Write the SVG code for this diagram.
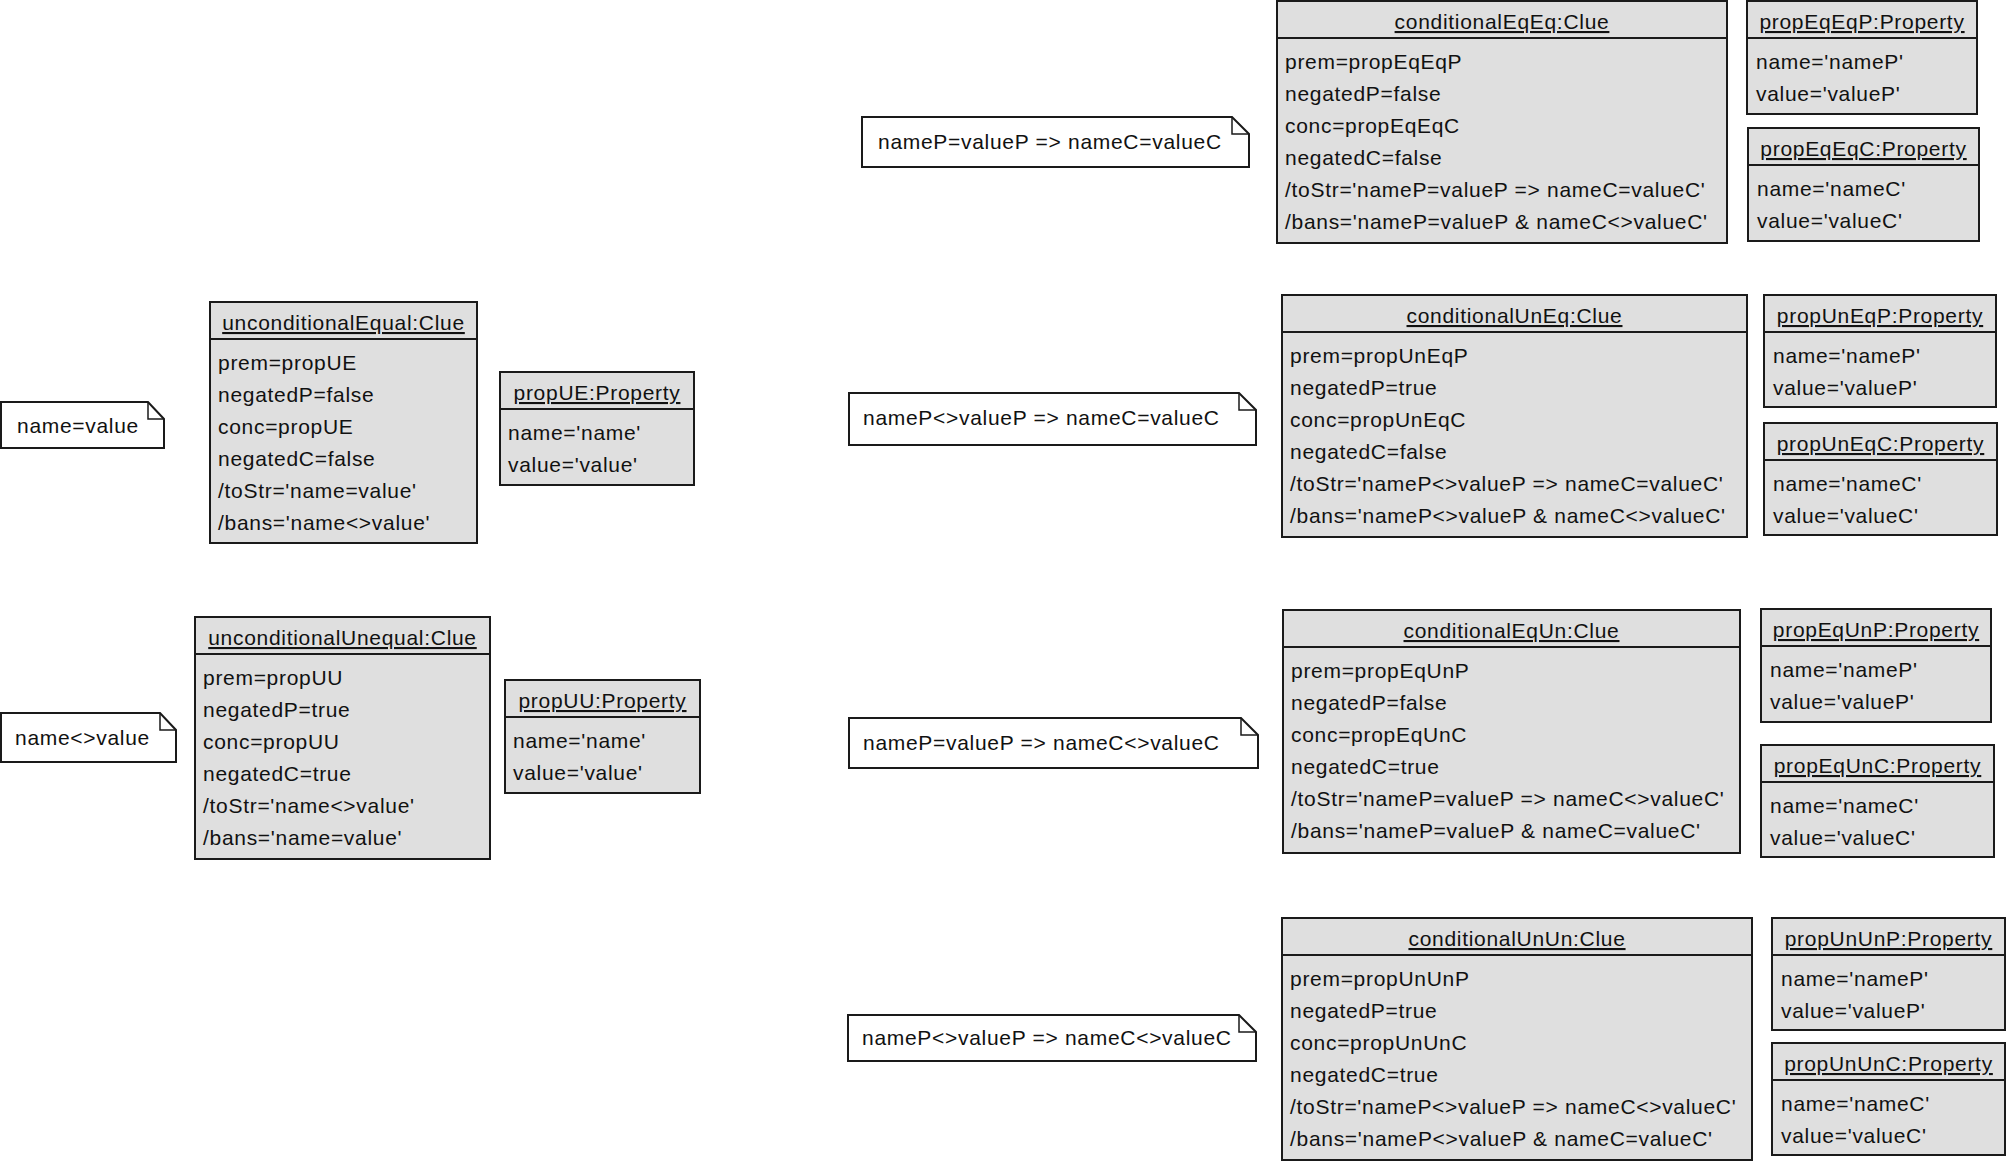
<svg xmlns="http://www.w3.org/2000/svg" width="2008" height="1165" viewBox="0 0 2008 1165">
<style>
  .box { fill: #dfdfdf; stroke: #1a1a1a; stroke-width: 2; }
  .sep { stroke: #1a1a1a; stroke-width: 2; }
  .note { fill: #ffffff; stroke: #1a1a1a; stroke-width: 2; stroke-linejoin: miter; }
  .fold { fill: none; stroke: #1a1a1a; stroke-width: 1.5; }
  text { font-family: "Liberation Sans", Arial, sans-serif; font-size: 21px; letter-spacing: 0.7px; fill: #111111; }
  .title { text-anchor: middle; text-decoration: underline; }
</style>
<rect width="2008" height="1165" fill="#ffffff"/>

<g id="connectors"></g>

<!-- Notes -->
<g id="note1" transform="translate(1,402)">
  <path class="note" d="M0,0 H147 L163,17 V46 H0 Z"/>
  <path class="fold" d="M147,0 V17 H163"/>
  <text x="16" y="31">name=value</text>
</g>
<g id="note2" transform="translate(1,713)">
  <path class="note" d="M0,0 H159 L175,17 V49 H0 Z"/>
  <path class="fold" d="M159,0 V17 H175"/>
  <text x="14" y="32">name&lt;&gt;value</text>
</g>
<g id="note3" transform="translate(862,117)">
  <path class="note" d="M0,0 H370 L387,17 V50 H0 Z"/>
  <path class="fold" d="M370,0 V17 H387"/>
  <text x="16" y="32">nameP=valueP =&gt; nameC=valueC</text>
</g>
<g id="note4" transform="translate(849,393)">
  <path class="note" d="M0,0 H390 L407,17 V52 H0 Z"/>
  <path class="fold" d="M390,0 V17 H407"/>
  <text x="14" y="32">nameP&lt;&gt;valueP =&gt; nameC=valueC</text>
</g>
<g id="note5" transform="translate(849,718)">
  <path class="note" d="M0,0 H392 L409,17 V50 H0 Z"/>
  <path class="fold" d="M392,0 V17 H409"/>
  <text x="14" y="32">nameP=valueP =&gt; nameC&lt;&gt;valueC</text>
</g>
<g id="note6" transform="translate(848,1015)">
  <path class="note" d="M0,0 H391 L408,17 V46 H0 Z"/>
  <path class="fold" d="M391,0 V17 H408"/>
  <text x="14" y="30">nameP&lt;&gt;valueP =&gt; nameC&lt;&gt;valueC</text>
</g>

<!-- Clue objects -->
<g id="unconditionalEqual" transform="translate(210,302)">
  <rect class="box" width="267" height="241"/>
  <line class="sep" x1="0" y1="37" x2="267" y2="37"/>
  <text class="title" x="133.5" y="28">unconditionalEqual:Clue</text>
  <text x="8" y="68">prem=propUE</text>
  <text x="8" y="100">negatedP=false</text>
  <text x="8" y="132">conc=propUE</text>
  <text x="8" y="164">negatedC=false</text>
  <text x="8" y="196">/toStr='name=value'</text>
  <text x="8" y="228">/bans='name&lt;&gt;value'</text>
</g>
<g id="unconditionalUnequal" transform="translate(195,617)">
  <rect class="box" width="295" height="242"/>
  <line class="sep" x1="0" y1="37" x2="295" y2="37"/>
  <text class="title" x="147.5" y="28">unconditionalUnequal:Clue</text>
  <text x="8" y="68">prem=propUU</text>
  <text x="8" y="100">negatedP=true</text>
  <text x="8" y="132">conc=propUU</text>
  <text x="8" y="164">negatedC=true</text>
  <text x="8" y="196">/toStr='name&lt;&gt;value'</text>
  <text x="8" y="228">/bans='name=value'</text>
</g>
<g id="conditionalEqEq" transform="translate(1277,1)">
  <rect class="box" width="450" height="242"/>
  <line class="sep" x1="0" y1="37" x2="450" y2="37"/>
  <text class="title" x="225" y="28">conditionalEqEq:Clue</text>
  <text x="8" y="68">prem=propEqEqP</text>
  <text x="8" y="100">negatedP=false</text>
  <text x="8" y="132">conc=propEqEqC</text>
  <text x="8" y="164">negatedC=false</text>
  <text x="8" y="196">/toStr='nameP=valueP =&gt; nameC=valueC'</text>
  <text x="8" y="228">/bans='nameP=valueP &amp; nameC&lt;&gt;valueC'</text>
</g>
<g id="conditionalUnEq" transform="translate(1282,295)">
  <rect class="box" width="465" height="242"/>
  <line class="sep" x1="0" y1="37" x2="465" y2="37"/>
  <text class="title" x="232.5" y="28">conditionalUnEq:Clue</text>
  <text x="8" y="68">prem=propUnEqP</text>
  <text x="8" y="100">negatedP=true</text>
  <text x="8" y="132">conc=propUnEqC</text>
  <text x="8" y="164">negatedC=false</text>
  <text x="8" y="196">/toStr='nameP&lt;&gt;valueP =&gt; nameC=valueC'</text>
  <text x="8" y="228">/bans='nameP&lt;&gt;valueP &amp; nameC&lt;&gt;valueC'</text>
</g>
<g id="conditionalEqUn" transform="translate(1283,610)">
  <rect class="box" width="457" height="243"/>
  <line class="sep" x1="0" y1="37" x2="457" y2="37"/>
  <text class="title" x="228.5" y="28">conditionalEqUn:Clue</text>
  <text x="8" y="68">prem=propEqUnP</text>
  <text x="8" y="100">negatedP=false</text>
  <text x="8" y="132">conc=propEqUnC</text>
  <text x="8" y="164">negatedC=true</text>
  <text x="8" y="196">/toStr='nameP=valueP =&gt; nameC&lt;&gt;valueC'</text>
  <text x="8" y="228">/bans='nameP=valueP &amp; nameC=valueC'</text>
</g>
<g id="conditionalUnUn" transform="translate(1282,918)">
  <rect class="box" width="470" height="242"/>
  <line class="sep" x1="0" y1="37" x2="470" y2="37"/>
  <text class="title" x="235" y="28">conditionalUnUn:Clue</text>
  <text x="8" y="68">prem=propUnUnP</text>
  <text x="8" y="100">negatedP=true</text>
  <text x="8" y="132">conc=propUnUnC</text>
  <text x="8" y="164">negatedC=true</text>
  <text x="8" y="196">/toStr='nameP&lt;&gt;valueP =&gt; nameC&lt;&gt;valueC'</text>
  <text x="8" y="228">/bans='nameP&lt;&gt;valueP &amp; nameC=valueC'</text>
</g>

<!-- Property objects -->
<g id="propUE" transform="translate(500,372)">
  <rect class="box" width="194" height="113"/>
  <line class="sep" x1="0" y1="37" x2="194" y2="37"/>
  <text class="title" x="97" y="28">propUE:Property</text>
  <text x="8" y="68">name='name'</text>
  <text x="8" y="100">value='value'</text>
</g>
<g id="propUU" transform="translate(505,680)">
  <rect class="box" width="195" height="113"/>
  <line class="sep" x1="0" y1="37" x2="195" y2="37"/>
  <text class="title" x="97.5" y="28">propUU:Property</text>
  <text x="8" y="68">name='name'</text>
  <text x="8" y="100">value='value'</text>
</g>
<g id="propEqEqP" transform="translate(1747,1)">
  <rect class="box" width="230" height="113"/>
  <line class="sep" x1="0" y1="37" x2="230" y2="37"/>
  <text class="title" x="115" y="28">propEqEqP:Property</text>
  <text x="9" y="68">name='nameP'</text>
  <text x="9" y="100">value='valueP'</text>
</g>
<g id="propEqEqC" transform="translate(1748,128)">
  <rect class="box" width="231" height="113"/>
  <line class="sep" x1="0" y1="37" x2="231" y2="37"/>
  <text class="title" x="115.5" y="28">propEqEqC:Property</text>
  <text x="9" y="68">name='nameC'</text>
  <text x="9" y="100">value='valueC'</text>
</g>
<g id="propUnEqP" transform="translate(1764,295)">
  <rect class="box" width="232" height="112"/>
  <line class="sep" x1="0" y1="37" x2="232" y2="37"/>
  <text class="title" x="116" y="28">propUnEqP:Property</text>
  <text x="9" y="68">name='nameP'</text>
  <text x="9" y="100">value='valueP'</text>
</g>
<g id="propUnEqC" transform="translate(1764,423)">
  <rect class="box" width="233" height="112"/>
  <line class="sep" x1="0" y1="37" x2="233" y2="37"/>
  <text class="title" x="116.5" y="28">propUnEqC:Property</text>
  <text x="9" y="68">name='nameC'</text>
  <text x="9" y="100">value='valueC'</text>
</g>
<g id="propEqUnP" transform="translate(1761,609)">
  <rect class="box" width="230" height="113"/>
  <line class="sep" x1="0" y1="37" x2="230" y2="37"/>
  <text class="title" x="115" y="28">propEqUnP:Property</text>
  <text x="9" y="68">name='nameP'</text>
  <text x="9" y="100">value='valueP'</text>
</g>
<g id="propEqUnC" transform="translate(1761,745)">
  <rect class="box" width="233" height="112"/>
  <line class="sep" x1="0" y1="37" x2="233" y2="37"/>
  <text class="title" x="116.5" y="28">propEqUnC:Property</text>
  <text x="9" y="68">name='nameC'</text>
  <text x="9" y="100">value='valueC'</text>
</g>
<g id="propUnUnP" transform="translate(1772,918)">
  <rect class="box" width="233" height="112"/>
  <line class="sep" x1="0" y1="37" x2="233" y2="37"/>
  <text class="title" x="116.5" y="28">propUnUnP:Property</text>
  <text x="9" y="68">name='nameP'</text>
  <text x="9" y="100">value='valueP'</text>
</g>
<g id="propUnUnC" transform="translate(1772,1043)">
  <rect class="box" width="233" height="112"/>
  <line class="sep" x1="0" y1="37" x2="233" y2="37"/>
  <text class="title" x="116.5" y="28">propUnUnC:Property</text>
  <text x="9" y="68">name='nameC'</text>
  <text x="9" y="100">value='valueC'</text>
</g>
</svg>
